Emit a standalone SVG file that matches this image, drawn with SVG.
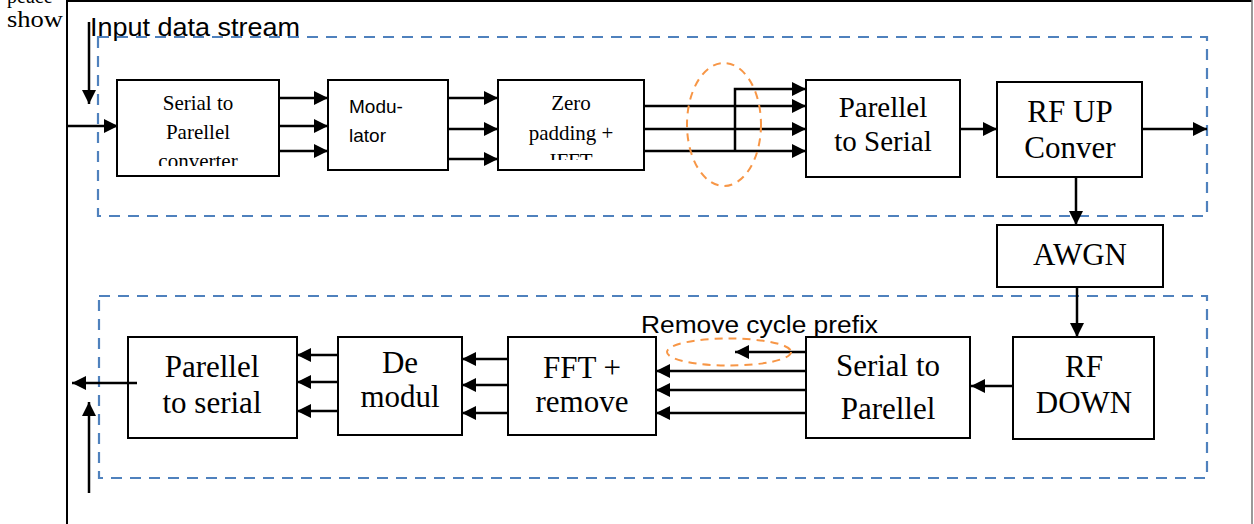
<svg xmlns="http://www.w3.org/2000/svg" width="1254" height="524" viewBox="0 0 1254 524">
<style>
.box{fill:#fff;stroke:#000;stroke-width:2}
.tnr{font-family:"Liberation Serif","Times New Roman",serif;fill:#000;text-anchor:middle}
.serif{font-family:"Liberation Serif","Times New Roman",serif;fill:#000}
.sans{font-family:"Liberation Sans",Arial,sans-serif;fill:#000}
.ar{stroke:#000;stroke-width:2.5;fill:none;marker-end:url(#ah)}
.blue{fill:none;stroke:#4f81bd;stroke-width:2.2;stroke-dasharray:11 8}
.orange{fill:none;stroke:#f79646;stroke-width:2;stroke-dasharray:8 6}
</style>
<defs>
<marker id="ah" viewBox="0 0 10 10" refX="10" refY="5" markerWidth="15" markerHeight="14" markerUnits="userSpaceOnUse" orient="auto">
<path d="M0,0 L10,5 L0,10 z" fill="#000"/>
</marker>
<clipPath id="c1"><rect x="118" y="81" width="160" height="85"/></clipPath>
<clipPath id="c2"><rect x="499" y="81" width="144" height="79"/></clipPath>
</defs>
<rect width="1254" height="524" fill="#fff"/>
<text x="7" y="3" class="serif" font-size="20">peace</text>
<text x="7" y="27" class="serif" font-size="23" textLength="56" lengthAdjust="spacingAndGlyphs">show</text>
<g id="frame">
<rect x="67" y="0" width="1185" height="524" fill="#fff"/>
<line x1="67" y1="1" x2="1252" y2="1" stroke="#000" stroke-width="2"/>
<line x1="67" y1="0" x2="67" y2="524" stroke="#000" stroke-width="2"/>
<line x1="1252" y1="0" x2="1252" y2="524" stroke="#777" stroke-width="1.5"/>
</g>
<g id="groups">
<rect class="blue" x="98" y="37" width="1109" height="179"/>
<rect class="blue" x="99" y="296" width="1108" height="182"/>
</g>
<text class="sans" x="90" y="36" font-size="25" textLength="210" lengthAdjust="spacingAndGlyphs">Input data stream</text>
<text class="sans" x="641" y="333" font-size="23" textLength="237" lengthAdjust="spacingAndGlyphs">Remove cycle prefix</text>
<g id="n-s2p">
<rect class="box" x="117" y="80" width="162" height="96"/>
<g clip-path="url(#c1)">
<text class="tnr" x="198" y="110" font-size="21">Serial to</text>
<text class="tnr" x="198" y="139" font-size="21">Parellel</text>
<text class="tnr" x="198" y="168" font-size="21">converter</text>
</g>
</g>
<g id="n-mod">
<rect class="box" x="328" y="80" width="120" height="90"/>
<text class="sans" x="349" y="113" font-size="19">Modu-</text>
<text class="sans" x="349" y="142" font-size="19">lator</text>
</g>
<g id="n-ifft">
<rect class="box" x="498" y="80" width="146" height="90"/>
<g clip-path="url(#c2)">
<text class="tnr" x="571" y="110" font-size="21">Zero</text>
<text class="tnr" x="571" y="140" font-size="21">padding +</text>
<text class="tnr" x="571" y="168" font-size="21">IFFT</text>
</g>
</g>
<g id="n-p2s">
<rect class="box" x="806" y="80" width="154" height="97"/>
<text class="tnr" x="883" y="117" font-size="29">Parellel</text>
<text class="tnr" x="883" y="151" font-size="29">to Serial</text>
</g>
<g id="n-rfup">
<rect class="box" x="997" y="82" width="145" height="95"/>
<text class="tnr" x="1070" y="122" font-size="31">RF UP</text>
<text class="tnr" x="1070" y="158" font-size="31">Conver</text>
</g>
<g id="n-awgn">
<rect class="box" x="997" y="225" width="166" height="62"/>
<text class="tnr" x="1080" y="265" font-size="31">AWGN</text>
</g>
<g id="n-rfdown">
<rect class="box" x="1013" y="337" width="141" height="102"/>
<text class="tnr" x="1084" y="377" font-size="31">RF</text>
<text class="tnr" x="1084" y="413" font-size="31">DOWN</text>
</g>
<g id="n-s2p2">
<rect class="box" x="806" y="337" width="164" height="101"/>
<text class="tnr" x="888" y="376" font-size="31">Serial to</text>
<text class="tnr" x="888" y="419" font-size="31">Parellel</text>
</g>
<g id="n-fft">
<rect class="box" x="508" y="337" width="148" height="98"/>
<text class="tnr" x="582" y="378" font-size="31">FFT +</text>
<text class="tnr" x="582" y="412" font-size="31">remove</text>
</g>
<g id="n-demod">
<rect class="box" x="338" y="337" width="124" height="98"/>
<text class="tnr" x="400" y="373" font-size="31">De</text>
<text class="tnr" x="400" y="407" font-size="31">modul</text>
</g>
<g id="n-p2s2">
<rect class="box" x="128" y="337" width="169" height="101"/>
<text class="tnr" x="212" y="377" font-size="31">Parellel</text>
<text class="tnr" x="212" y="413" font-size="31">to serial</text>
</g>
<g id="connectors">
<line class="ar" x1="89" y1="22" x2="89" y2="104"/>
<line class="ar" x1="67" y1="126" x2="118" y2="126"/>
<line class="ar" x1="279" y1="98" x2="328" y2="98"/>
<line class="ar" x1="279" y1="126" x2="328" y2="126"/>
<line class="ar" x1="279" y1="151" x2="328" y2="151"/>
<line class="ar" x1="448" y1="98" x2="498" y2="98"/>
<line class="ar" x1="448" y1="129" x2="498" y2="129"/>
<line class="ar" x1="448" y1="159" x2="498" y2="159"/>
<line class="ar" x1="644" y1="106" x2="806" y2="106"/>
<line class="ar" x1="644" y1="129" x2="806" y2="129"/>
<line class="ar" x1="644" y1="151" x2="806" y2="151"/>
<polyline class="ar" points="735,151 735,89 806,89"/>
<line class="ar" x1="960" y1="129" x2="997" y2="129"/>
<line class="ar" x1="1142" y1="129" x2="1207" y2="129"/>
<line class="ar" x1="1076" y1="177" x2="1076" y2="225"/>
<line class="ar" x1="1077" y1="287" x2="1077" y2="337"/>
<line class="ar" x1="1013" y1="386" x2="971" y2="386"/>
<line class="ar" x1="806" y1="352" x2="735" y2="352"/>
<line class="ar" x1="806" y1="371" x2="656" y2="371"/>
<line class="ar" x1="806" y1="390" x2="656" y2="390"/>
<line class="ar" x1="806" y1="413" x2="656" y2="413"/>
<line class="ar" x1="508" y1="359" x2="462" y2="359"/>
<line class="ar" x1="508" y1="385" x2="462" y2="385"/>
<line class="ar" x1="508" y1="413" x2="462" y2="413"/>
<line class="ar" x1="338" y1="355" x2="297" y2="355"/>
<line class="ar" x1="338" y1="382" x2="297" y2="382"/>
<line class="ar" x1="338" y1="411" x2="297" y2="411"/>
<line class="ar" x1="137" y1="383" x2="72" y2="383"/>
<line class="ar" x1="89" y1="493" x2="89" y2="402"/>
<ellipse class="orange" cx="724" cy="124.5" rx="37" ry="61.5"/>
<ellipse class="orange" cx="729" cy="352" rx="62" ry="13.5"/>
</g>
</svg>
